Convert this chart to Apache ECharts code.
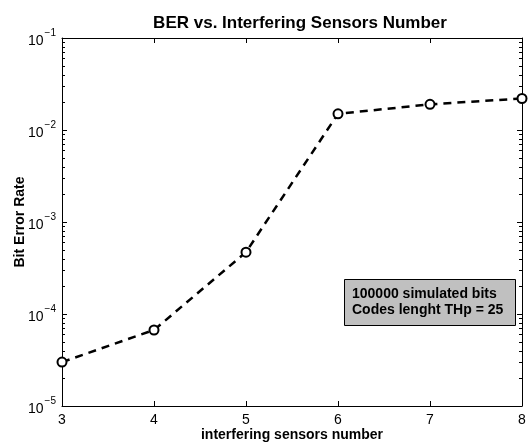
<!DOCTYPE html>
<html>
<head>
<meta charset="utf-8">
<script src="https://cdn.jsdelivr.net/npm/echarts@6/dist/echarts.min.js"></script>
<style>
  html, body { margin: 0; padding: 0; background: #fff; }
  #main { width: 531px; height: 443px; }
</style>
</head>
<body>
<div id="main"></div>
<script>
var sensors = [3, 4, 5, 6, 7, 8];
var ber = [3.0e-5, 6.7e-5, 4.7e-4, 1.5e-2, 1.9e-2, 2.2e-2];
var noteLines = ['100000 simulated bits', 'Codes lenght THp = 25'];

// minor tick positions of the log axis (2..9 in each decade)
var minorTicks = [];
for (var e = -5; e < -1; e++) {
  for (var k = 2; k <= 9; k++) minorTicks.push(k * Math.pow(10, e));
}

var font = 'Liberation Sans, Arial, Helvetica, sans-serif';
var chart = echarts.init(document.getElementById('main'), null, { renderer: 'canvas' });

var yLabel = {
  fontFamily: font,
  color: '#000',
  margin: 6,
  formatter: function (v) {
    var p = Math.round(Math.log10(v));
    return '{b|10}{s|\u2212' + Math.abs(p) + '}';
  },
  rich: {
    b: { fontSize: 14, fontFamily: font, color: '#000', verticalAlign: 'bottom' },
    s: { fontSize: 10, fontFamily: font, color: '#000', verticalAlign: 'top', padding: [0, 0, 10, 1] }
  }
};

var option = {
  backgroundColor: '#fff',
  animation: false,
  title: {
    text: 'BER vs. Interfering Sensors Number',
    left: 295,
    textAlign: 'center',
    top: 10,
    textStyle: { fontFamily: font, fontSize: 17, fontWeight: 'bold', color: '#000' }
  },
  grid: { left: 62, right: 9, top: 38, bottom: 37, containLabel: false, outerBoundsMode: 'none' },
  xAxis: [{
    type: 'value',
    min: 3, max: 8, interval: 1,
    name: 'interfering sensors number',
    nameLocation: 'middle',
    nameGap: 22,
    nameMoveOverlap: false,
    nameTextStyle: { fontFamily: font, fontSize: 14, fontWeight: 'bold', color: '#000', verticalAlign: 'top' },
    axisLine: { lineStyle: { color: '#000', width: 1 } },
    axisTick: { inside: true, length: 5, lineStyle: { color: '#000' } },
    axisLabel: { fontFamily: font, fontSize: 14, color: '#000', margin: 7 },
    splitLine: { show: false }
  }, {
    type: 'value',
    position: 'top',
    min: 3, max: 8, interval: 1,
    axisLine: { lineStyle: { color: '#000', width: 1 } },
    axisTick: { inside: true, length: 5, lineStyle: { color: '#000' } },
    axisLabel: { show: false },
    splitLine: { show: false }
  }],
  yAxis: [{
    type: 'log',
    logBase: 10,
    min: 1e-5, max: 1e-1,
    name: 'Bit Error Rate',
    nameLocation: 'middle',
    nameGap: 35,
    nameMoveOverlap: false,
    nameRotate: 90,
    nameTextStyle: { fontFamily: font, fontSize: 14, fontWeight: 'bold', color: '#000' },
    axisLine: { lineStyle: { color: '#000', width: 1 } },
    axisTick: { inside: true, length: 5, lineStyle: { color: '#000' } },
    axisLabel: yLabel,
    splitLine: { show: false }
  }, {
    type: 'log',
    logBase: 10,
    position: 'right',
    min: 1e-5, max: 1e-1,
    axisLine: { lineStyle: { color: '#000', width: 1 } },
    axisTick: { inside: true, length: 5, lineStyle: { color: '#000' } },
    axisLabel: { show: false },
    splitLine: { show: false }
  }],
  series: [{
    type: 'line',
    z: 3,
    data: sensors.map(function (x, i) { return [x, ber[i]]; }),
    lineStyle: { color: '#000', width: 2.5, type: [8, 6] },
    symbol: 'emptyCircle',
    symbolSize: 9,
    itemStyle: { color: '#000', borderColor: '#000', borderWidth: 2.5 },
    clip: false
  }]
};

chart.setOption(option);

// minor ticks on both vertical sides, placed through the y axis scale
var xl = chart.convertToPixel({ xAxisIndex: 0 }, 3);
var xr = chart.convertToPixel({ xAxisIndex: 0 }, 8);
var tickEls = [];
minorTicks.forEach(function (v) {
  var y = Math.round(chart.convertToPixel({ yAxisIndex: 0 }, v)) + 0.5;
  tickEls.push({ type: 'line', silent: true, shape: { x1: xl, y1: y, x2: xl + 3, y2: y }, style: { stroke: '#000', lineWidth: 1 } });
  tickEls.push({ type: 'line', silent: true, shape: { x1: xr, y1: y, x2: xr - 3, y2: y }, style: { stroke: '#000', lineWidth: 1 } });
});

chart.setOption({
  graphic: [{
    type: 'group',
    children: tickEls
  }, {
    type: 'group',
    left: 344,
    top: 279,
    children: [{
      type: 'rect',
      shape: { x: 0.5, y: 0.5, width: 171, height: 46 },
      style: { fill: '#c0c0c0', stroke: '#000', lineWidth: 1 }
    }, {
      type: 'text',
      x: 8, y: 7,
      style: {
        text: noteLines.join('\n'),
        font: 'bold 14px ' + font,
        fill: '#000',
        lineHeight: 16
      }
    }]
  }]
});
</script>
</body>
</html>
